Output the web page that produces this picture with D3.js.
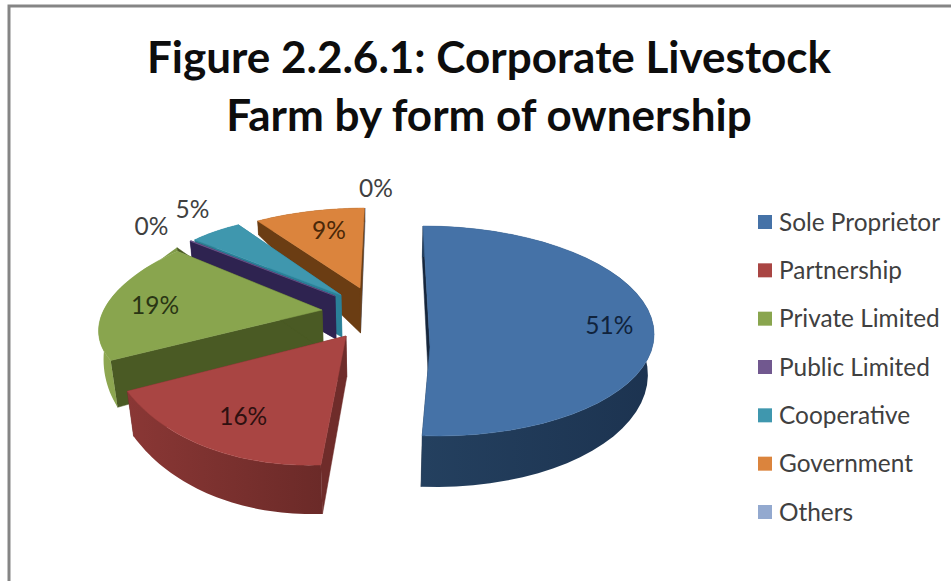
<!DOCTYPE html>
<html>
<head>
<meta charset="utf-8">
<script src="https://cdn.jsdelivr.net/npm/d3@7"></script>
<style>
  html, body { margin: 0; padding: 0; background: #fff; }
  svg { display: block; }
  text { font-family: Lato, "Open Sans", sans-serif; }
</style>
</head>
<body>
<script>
// chart values
const categories = ['Sole Proprietor', 'Partnership', 'Private Limited', 'Public Limited', 'Cooperative', 'Government', 'Others']
const shares = [51.05, 15.9, 19.05, 0.1, 4.9, 8.95, 0.05]
const titleLines = ['Figure 2.2.6.1: Corporate Livestock', 'Farm by form of ownership']

// colours per slice
const topColors = ['#4572a7', '#a94543', '#89a54e', '#71588f', '#3f97ae', '#db843d', '#93a9cf']
const wallColors = [['#24405f', '#1c3350'], ['#8a3735', '#6b2a28'], ['#8fa852', '#7f9a48'], ['#2e2350', '#2e2350'], ['#2d7c8f', '#2d7c8f'], ['#6b3d13', '#6b3d13'], ['#6d7f9c', '#6d7f9c']]
const radialColors = ['#16263c', '#6f2c2a', '#4a5a24', '#2e2350', '#2a8098', '#6b3d13', '#6d7f9c']

// the tilted disc of each exploded slice: ellipse centre c, axes u and v, apex, wall heights
const discs = [
  {c: [430, 331], u: [224, 0], v: [-7, -105], apex: [430, 347], h0: 41, h1: 10, hApex: 41, label: [0, -8]},
  {c: [346, 289], u: [245, -20], v: [9, -175], apex: [346, 336], h0: 41, h1: 8, hApex: 41, label: [0, 10]},
  {c: [322, 310], u: [220, -4], v: [39, -97], apex: [322, 310], h0: 25, h1: 45, hApex: 40, label: [0, -1]},
  {c: [335, 296], u: [188, 5], v: [0, -80], apex: [335, 296], h0: 16, h1: 0, hApex: 43, label: [0, 0]},
  {c: [341, 295], u: [190, 5], v: [-1, -80], apex: [341, 295], h0: 16, h1: 0, hApex: 42, label: [0, -11]},
  {c: [360, 288], u: [199, -1], v: [5, -80], apex: [360, 288], h0: 14, h1: 0, hApex: 45, label: [0, -11]},
  {c: [360, 288], u: [199, -1], v: [5, -80], apex: [360, 288], h0: 14, h1: 0, hApex: 45, label: [10, 0]}
]
const labelReach = [0.8, 0.74, 0.775, 1.27, 1.18, 0.61, 1.25]

const width = 951
const height = 581
const vanishX = 380

const svg = d3.select('body').append('svg')
  .attr('width', width)
  .attr('height', height)

// frame
svg.append('path')
  .attr('d', d3.line()([[9, height], [9, 6], [width, 6]]))
  .attr('fill', 'none')
  .attr('stroke', '#858585')
  .attr('stroke-width', 3)

// title
svg.append('g')
  .selectAll('text')
  .data(titleLines)
  .join('text')
  .attr('x', 489)
  .attr('y', (d, i) => 73 + i * 58)
  .attr('text-anchor', 'middle')
  .attr('font-size', 44)
  .attr('font-weight', 700)
  .attr('fill', '#0d0d0d')
  .text((d) => d)

const pie = d3.pie().sort(null).value((d) => d)
const arcs = pie(shares)

function rimTop(disc, a) {
  return [
    disc.c[0] + disc.u[0] * Math.sin(a) + disc.v[0] * Math.cos(a),
    disc.c[1] + disc.u[1] * Math.sin(a) + disc.v[1] * Math.cos(a)
  ]
}

// points on the lower edge lean slightly towards the vanishing point
function drop(p, h) {
  return [p[0] + (vanishX - p[0]) * 0.00055 * h, p[1] + h]
}

function rimBottom(disc, a) {
  return drop(rimTop(disc, a), disc.h0 - disc.h1 * Math.cos(a))
}

const closed = d3.line()
const stepAngles = (d) => d3.range(41).map((i) => d.startAngle + (d.endAngle - d.startAngle) * i / 40)

const defs = svg.append('defs')
wallColors.forEach((c, i) => {
  const grad = defs.append('linearGradient').attr('id', `wall${i}`)
  grad.append('stop').attr('offset', '0%').attr('stop-color', c[0])
  grad.append('stop').attr('offset', '100%').attr('stop-color', c[1])
})

// paint from the back of the picture to the front
const paintOrder = [6, 5, 4, 3, 2, 0, 1]
const plot = svg.append('g')

paintOrder.forEach((i) => {
  const d = arcs[i]
  const disc = discs[i]
  const g = plot.append('g').attr('class', `slice slice-${i}`)
  const apexLow = drop(disc.apex, disc.hApex)

  ;[d.startAngle, d.endAngle].forEach((a) => {
    g.append('path')
      .attr('d', closed([disc.apex, rimTop(disc, a), rimBottom(disc, a), apexLow]) + 'Z')
      .attr('fill', radialColors[i])
      .attr('stroke', radialColors[i])
      .attr('stroke-width', 0.5)
  })

  const angles = stepAngles(d)
  g.append('path')
    .attr('d', closed(angles.map((a) => rimTop(disc, a)).concat(angles.slice().reverse().map((a) => rimBottom(disc, a)))) + 'Z')
    .attr('fill', `url(#wall${i})`)

  g.append('path')
    .attr('d', closed([disc.apex].concat(angles.map((a) => rimTop(disc, a)))) + 'Z')
    .attr('fill', topColors[i])
    .attr('stroke', topColors[i])
    .attr('stroke-width', 0.5)
})

// data labels
const pct = d3.format('.0f')
svg.append('g')
  .selectAll('text')
  .data(arcs)
  .join('text')
  .attr('x', (d) => {
    const disc = discs[d.index]
    const a = (d.startAngle + d.endAngle) / 2
    return disc.c[0] + labelReach[d.index] * (rimTop(disc, a)[0] - disc.c[0]) + disc.label[0]
  })
  .attr('y', (d) => {
    const disc = discs[d.index]
    const a = (d.startAngle + d.endAngle) / 2
    return disc.c[1] + labelReach[d.index] * (rimTop(disc, a)[1] - disc.c[1]) + disc.label[1]
  })
  .attr('dy', '.35em')
  .attr('text-anchor', 'middle')
  .attr('font-size', 24.5)
  .attr('fill', (d) => (d.index === 0 ? '#10233c' : d.index === 1 ? '#2e1010' : d.index === 2 ? '#2a3514' : d.index === 5 ? '#4a2808' : '#404040'))
  .text((d) => `${pct(d.data)}%`)

// legend
const legendY = d3.scalePoint().domain(categories).range([222, 512])
const legend = svg.append('g')
  .selectAll('g')
  .data(categories)
  .join('g')
  .attr('transform', (d) => `translate(758, ${legendY(d)})`)

legend.append('rect')
  .attr('y', -7)
  .attr('width', 14)
  .attr('height', 14)
  .attr('fill', (d, i) => topColors[i])

legend.append('text')
  .attr('x', 21)
  .attr('dy', '.35em')
  .attr('font-size', 24.4)
  .attr('fill', '#404040')
  .text((d) => d)
</script>
</body>
</html>
